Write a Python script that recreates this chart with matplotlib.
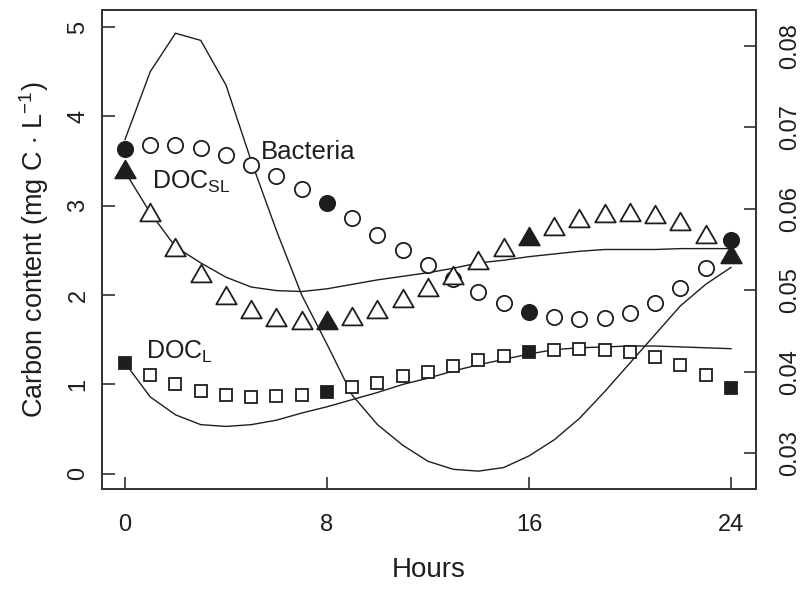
import matplotlib
matplotlib.use("Agg")
import matplotlib.pyplot as plt
from matplotlib.path import Path

plt.rcParams['font.family'] = ['Liberation Sans', 'DejaVu Sans']
plt.rcParams['mathtext.fontset'] = 'custom'
plt.rcParams['mathtext.rm'] = 'Liberation Sans'
plt.rcParams['mathtext.it'] = 'Liberation Sans:italic'

# data
hours = list(range(25))
sampled = [0, 8, 16, 24]  # filled markers

bacteria = [3.64, 3.68, 3.68, 3.65, 3.57, 3.46, 3.33, 3.19, 3.03, 2.86, 2.67, 2.51, 2.34,
            2.18, 2.04, 1.91, 1.81, 1.76, 1.73, 1.74, 1.80, 1.91, 2.08, 2.30, 2.62]
doc_sl = [3.38, 2.90, 2.51, 2.21, 1.97, 1.81, 1.72, 1.69, 1.69, 1.73, 1.81, 1.93, 2.06,
          2.19, 2.36, 2.50, 2.63, 2.74, 2.83, 2.89, 2.90, 2.87, 2.80, 2.65, 2.43]
doc_l = [1.24, 1.10, 1.01, 0.93, 0.88, 0.86, 0.87, 0.88, 0.92, 0.97, 1.02, 1.09, 1.14,
         1.21, 1.27, 1.32, 1.36, 1.39, 1.40, 1.39, 1.36, 1.31, 1.22, 1.11, 0.96]

# model curves
fit_peak = [3.74, 4.50, 4.93, 4.85, 4.35, 3.50, 2.72, 2.00, 1.45, 0.88, 0.55, 0.32, 0.14,
            0.05, 0.03, 0.07, 0.20, 0.38, 0.62, 0.92, 1.24, 1.56, 1.88, 2.12, 2.31]
fit_sl = [3.38, 2.92, 2.54, 2.36, 2.20, 2.09, 2.05, 2.04, 2.07, 2.12, 2.17, 2.21, 2.25,
          2.30, 2.36, 2.39, 2.43, 2.46, 2.49, 2.51, 2.51, 2.51, 2.52, 2.52, 2.52]
fit_l = [1.24, 0.86, 0.66, 0.55, 0.53, 0.55, 0.60, 0.68, 0.75, 0.83, 0.91, 1.00, 1.07,
         1.15, 1.22, 1.28, 1.34, 1.39, 1.41, 1.42, 1.43, 1.43, 1.42, 1.41, 1.40]

right_ticks = [0.03, 0.04, 0.05, 0.06, 0.07, 0.08]

fig = plt.figure(figsize=(8.02, 5.89), dpi=100)
ax = fig.add_axes([0.1272, 0.1698, 0.8154, 0.8132])

ink = '#1e1e1e'
for curve in (fit_peak, fit_sl, fit_l):
  ax.plot(hours, curve, color=ink, lw=1.0, zorder=2)

# equilateral triangle like R's pch 2
tri = Path([(-1, -0.577), (1, -0.577), (0, 1.155), (-1, -0.577)], closed=True)


def split(vals):
  op = [(h, v) for h, v in zip(hours, vals) if h not in sampled]
  fl = [(h, v) for h, v in zip(hours, vals) if h in sampled]
  return list(zip(*op)), list(zip(*fl))


for vals, mk, ms in ((bacteria, 'o', 11), (doc_sl, tri, 17), (doc_l, 's', 8.5)):
  op, fl = split(vals)
  ax.plot(op[0], op[1], ls='none', marker=mk, ms=ms, mfc='white', mec=ink, mew=1.3, zorder=3)
  ax.plot(fl[0], fl[1], ls='none', marker=mk, ms=ms, mfc=ink, mec=ink, mew=1.3, zorder=3)

ax.text(5.4, 3.6, 'Bacteria', fontsize=18.5, color=ink, va='center')
ax.text(1.05, 3.27, r'DOC$_{\mathrm{SL}}$', fontsize=18, color=ink, va='center')
ax.text(0.85, 1.36, r'DOC$_{\mathrm{L}}$', fontsize=18, color=ink, va='center')

ax.set_xlim(-0.91, 24.99)
ax.set_ylim(-0.17, 5.19)
ax.set_xticks([0, 8, 16, 24])
ax.set_yticks([0, 1, 2, 3, 4, 5])
ax.tick_params(direction='in', length=9, width=1.1, labelsize=17, colors=ink)
ax.tick_params(axis='x', pad=18)
ax.tick_params(axis='y', pad=9)
for lab in ax.get_yticklabels():
  lab.set_rotation(90)
  lab.set_va('center')
for sp in ax.spines.values():
  sp.set_linewidth(1.3)
  sp.set_color('#333333')

ax.set_xlabel('Hours', fontsize=20, color=ink, labelpad=15)
ax.set_ylabel(r'Carbon content (mg C $\cdot$ L$^{-1}$)', fontsize=19.5, color=ink, labelpad=12)

ax2 = ax.twinx()
ax2.set_ylim(0.0256, 0.0844)
ax2.set_yticks(right_ticks)
ax2.set_yticklabels([f'{t:.2f}' for t in right_ticks], rotation=90, va='center')
ax2.tick_params(direction='in', length=9, width=1.1, labelsize=17, colors=ink, pad=17)
for sp in ax2.spines.values():
  sp.set_linewidth(1.3)
  sp.set_color('#333333')

fig.savefig('out.png', dpi=100)
